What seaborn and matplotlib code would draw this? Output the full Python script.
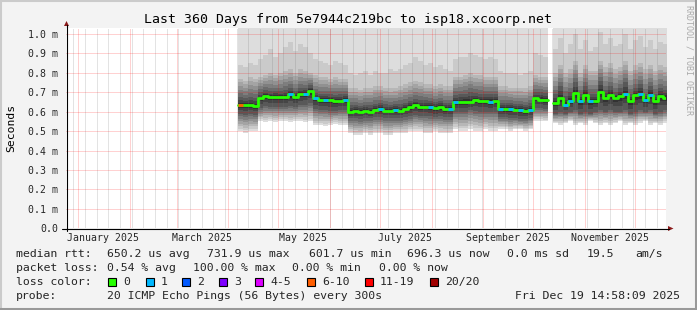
import numpy as np
import pandas as pd
import matplotlib
matplotlib.use("Agg")
import matplotlib.pyplot as plt
import matplotlib.dates as mdates
from matplotlib.patches import Polygon, Rectangle
from matplotlib.lines import Line2D
import seaborn as sns

nan = float("nan")

# ------------------------------------------------------------------ data
range_start = "2024-12-24 14:58:09"
range_end = "2025-12-19 14:58:09"
series_start = "2025-04-07"
step_days = 3

median_ms = [
    0.633, 0.632, 0.634, 0.628,
    0.668, 0.680, 0.674, 0.676, 0.674, 0.676, 0.690, 0.676, 0.690, 0.692, 0.705,
    0.668, 0.660, 0.662, 0.658, 0.655, 0.657, 0.660,
    0.600, 0.602, 0.598, 0.603, 0.600,
    0.610, 0.612, 0.605, 0.603, 0.606, 0.604, 0.614, 0.622, 0.632, 0.624, 0.625,
    0.622, 0.617, 0.622, 0.612, 0.615,
    0.648, 0.650, 0.652, 0.650, 0.662, 0.656, 0.655, 0.652, 0.655,
    0.615, 0.612, 0.615, 0.610, 0.607, 0.602, 0.610,
    0.668, 0.662, 0.660,
    nan,
    0.642, 0.670, 0.635, 0.655, 0.695, 0.655, 0.685, 0.655, 0.655, 0.700, 0.670,
    0.685, 0.670, 0.678, 0.690, 0.655, 0.685, 0.690, 0.660, 0.685, 0.655, 0.680, 0.672,
]

loss_count = [
    7, 0, 0, 0, 0, 0, 0, 0, 0, 0,
    1, 0, 0, 1, 0, 1, 0, 1, 0, 0,
    0, 1, 0, 0, 0, 0, 0, 0, 1, 0,
    0, 1, 0, 0, 0, 0, 0, 0, 1, 0,
    0, 0, 1, 1, 0, 0, 0, 0, 0, 0,
    1, 0, 1, 0, 1, 0, 1, 0, 1, 0,
    0, 0, 0, 0, 0, 1, 1, 0, 1, 0,
    1, 0, 0, 0, 0, 0, 0, 1, 0, 0,
    1, 1, 1, 0, 0, 0,
]

# smoke: lowest ping, dark core bounds, top of gradient, top of mid-grey band
ping_low = [
    0.50, 0.49, 0.50, 0.50,
    0.55, 0.545, 0.55, 0.545, 0.55, 0.55, 0.545, 0.55, 0.55, 0.545, 0.55,
    0.53, 0.53, 0.525, 0.53, 0.535, 0.53, 0.53,
    0.49, 0.48, 0.48, 0.49, 0.48, 0.49, 0.49, 0.48, 0.48, 0.49, 0.49, 0.49, 0.50,
    0.50, 0.50, 0.49, 0.49, 0.50, 0.49, 0.49, 0.49,
    0.51, 0.50, 0.50, 0.51, 0.50, 0.50, 0.51, 0.50, 0.50,
    0.51, 0.51, 0.50, 0.51, 0.51, 0.50, 0.51,
    0.55, 0.55, 0.55,
    nan,
    0.54, 0.53, 0.54, 0.55, 0.53, 0.54, 0.53, 0.55, 0.54, 0.53, 0.54, 0.53,
    0.54, 0.55, 0.53, 0.54, 0.53, 0.54, 0.55, 0.53, 0.54, 0.53, 0.54,
]
core_low = [
    0.59, 0.585, 0.59, 0.585,
    0.62, 0.63, 0.625, 0.625, 0.625, 0.625, 0.63, 0.625, 0.635, 0.635, 0.645,
    0.615, 0.61, 0.61, 0.605, 0.605, 0.61, 0.61,
    0.565, 0.565, 0.56, 0.565, 0.565, 0.57, 0.57, 0.565, 0.565, 0.565, 0.565, 0.57,
    0.575, 0.585, 0.58, 0.58, 0.575, 0.57, 0.575, 0.57, 0.57,
    0.60, 0.60, 0.60, 0.61, 0.605, 0.60, 0.60, 0.60, 0.60,
    0.57, 0.57, 0.565, 0.565, 0.56, 0.56, 0.565,
    0.62, 0.62, 0.615,
    nan,
    0.59, 0.60, 0.59, 0.60, 0.61, 0.59, 0.60, 0.59, 0.60, 0.61, 0.60, 0.61,
    0.60, 0.60, 0.61, 0.59, 0.60, 0.61, 0.60, 0.61, 0.59, 0.60, 0.61,
]
core_high = [
    0.675, 0.67, 0.675, 0.67,
    0.70, 0.71, 0.705, 0.705, 0.705, 0.71, 0.72, 0.705, 0.72, 0.72, 0.735,
    0.695, 0.69, 0.69, 0.69, 0.685, 0.69, 0.69,
    0.635, 0.635, 0.63, 0.635, 0.635, 0.64, 0.645, 0.64, 0.635, 0.64, 0.64, 0.645,
    0.655, 0.665, 0.66, 0.66, 0.655, 0.65, 0.655, 0.645, 0.645,
    0.685, 0.69, 0.69, 0.70, 0.695, 0.69, 0.69, 0.69, 0.69,
    0.645, 0.645, 0.645, 0.64, 0.64, 0.635, 0.645,
    0.70, 0.70, 0.695,
    nan,
    0.69, 0.73, 0.68, 0.70, 0.75, 0.69, 0.73, 0.69, 0.69, 0.76, 0.71, 0.73,
    0.70, 0.72, 0.75, 0.69, 0.72, 0.74, 0.69, 0.73, 0.69, 0.72, 0.71,
]
grad_high = [
    0.77, 0.76, 0.78, 0.77,
    0.78, 0.79, 0.80, 0.79, 0.80, 0.81, 0.82, 0.80, 0.82, 0.81, 0.80,
    0.79, 0.78, 0.78, 0.77, 0.78, 0.77, 0.77,
    0.72, 0.72, 0.71, 0.72, 0.72, 0.73, 0.73, 0.72, 0.72, 0.72, 0.73, 0.74,
    0.75, 0.76, 0.75, 0.74, 0.74, 0.73, 0.74, 0.73, 0.73,
    0.78, 0.78, 0.79, 0.80, 0.79, 0.79, 0.78, 0.78, 0.78,
    0.73, 0.73, 0.72, 0.72, 0.72, 0.72, 0.73,
    0.79, 0.78, 0.78,
    nan,
    0.80, 0.84, 0.80, 0.82, 0.86, 0.80, 0.84, 0.81, 0.81, 0.86, 0.83, 0.85,
    0.82, 0.83, 0.86, 0.81, 0.84, 0.85, 0.82, 0.84, 0.81, 0.84, 0.83,
]
mid_high = [
    0.84, 0.83, 0.85, 0.84,
    0.87, 0.89, 0.92, 0.88, 0.90, 0.93, 0.96, 0.91, 0.95, 0.93, 0.90,
    0.87, 0.86, 0.85, 0.84, 0.86, 0.85, 0.84,
    0.80, 0.79, 0.80, 0.81, 0.79, 0.81, 0.80, 0.80, 0.82, 0.81, 0.82, 0.84,
    0.85, 0.88, 0.86, 0.84, 0.85, 0.83, 0.84, 0.82, 0.81,
    0.87, 0.88, 0.88, 0.90, 0.89, 0.88, 0.87, 0.88, 0.87,
    0.81, 0.80, 0.80, 0.80, 0.79, 0.80, 0.81,
    0.90, 0.89, 0.88,
    nan,
    0.92, 0.98, 0.90, 0.95, 1.00, 0.92, 0.97, 0.91, 0.93, 1.01, 0.95, 0.98,
    0.94, 0.95, 1.00, 0.92, 0.97, 0.99, 0.93, 0.97, 0.92, 0.96, 0.95,
]

y_ticks = [0.0, 0.1, 0.2, 0.3, 0.4, 0.5, 0.6, 0.7, 0.8, 0.9, 1.0]
y_top = 1.03
x_label_months = ["2025-01-01", "2025-03-01", "2025-05-01", "2025-07-01",
                  "2025-09-01", "2025-11-01"]
x_label_texts = ["January 2025", "March 2025", "May 2025", "July 2025",
                 "September 2025", "November 2025"]

loss_bins = ["0", "1", "2", "3", "4-5", "6-10", "11-19", "20/20"]
loss_lo = [0, 1, 2, 3, 4, 6, 11, 20]
loss_hi = [0, 1, 2, 3, 5, 10, 19, 20]
loss_colors = ["#26ff00", "#00b8ff", "#0059ff", "#7e00ff", "#dd00ff",
               "#ff5e00", "#ff0000", "#a10000"]

title = "Last 360 Days from 5e7944c219bc to isp18.xcoorp.net"
rtt_stats = ["650.2 us avg", "731.9 us max", "601.7 us min", "696.3 us now",
             "0.0 ms sd", "19.5", "am/s"]
loss_stats = ["0.54 % avg", "100.00 % max", "0.00 % min", "0.00 % now"]
probe_text = "20 ICMP Echo Pings (56 Bytes) every 300s"
stamp_text = "Fri Dec 19 14:58:09 2025"
watermark = "RRDTOOL / TOBI OETIKER"

# ------------------------------------------------------------------ setup
sns.set_style("white")
plt.rcParams["font.family"] = ["DejaVu Sans Mono"]

W, H = 697, 310
fig = plt.figure(figsize=(W / 100, H / 100), dpi=100, facecolor="#f3f3f3")


def fx(x):
    return x / W


def fy(y):
    return 1 - y / H


X0, X1, Y0, Y1 = 66.0, 666.0, 28.0, 228.3
ax = fig.add_axes([fx(X0), fy(Y1), (X1 - X0) / W, (Y1 - Y0) / H])
ax.set_facecolor("white")
for s in ax.spines.values():
    s.set_visible(False)

dates = pd.date_range(series_start, periods=len(median_ms), freq=f"{step_days}D")
step = step_days  # date-number units (days)
df = pd.DataFrame({
    "x": mdates.date2num(dates),
    "median": median_ms,
    "loss": loss_count,
    "p_low": ping_low,
    "c_low": core_low,
    "c_high": core_high,
    "g_high": grad_high,
    "m_high": mid_high,
})
valid = df["median"].notna()
df["segment"] = (~valid).cumsum()
segs = [g for _, g in df[valid].groupby("segment")]


def band(lo_fn, hi_fn, grey):
    c = (grey / 255.0,) * 3
    for g in segs:
        xs = np.append(g["x"].values, g["x"].values[-1] + step)
        lo = np.asarray(lo_fn(g), dtype=float)
        hi = np.asarray(hi_fn(g), dtype=float)
        lo = np.append(lo, lo[-1])
        hi = np.append(hi, hi[-1])
        ax.fill_between(xs, lo, hi, step="post", color=c, lw=0, zorder=1,
                        antialiased=False)


# smoke levels (SmokePing grey ramp, outermost first)
greys = [221, 202, 183, 164, 145, 126, 107, 88, 69, 50]
band(lambda g: g["p_low"], lambda g: np.full(len(g), y_top + 0.2), greys[0])
band(lambda g: g["p_low"] + (g["c_low"] - g["p_low"]) / 7.0,
     lambda g: g["m_high"], greys[1])
for j in range(2, 7):
    band(lambda g, j=j: g["p_low"] + (g["c_low"] - g["p_low"]) * j / 7.0,
         lambda g, j=j: g["g_high"] + (g["c_high"] - g["g_high"]) * (j - 2) / 5.0,
         greys[j])
band(lambda g: g["c_low"], lambda g: g["c_high"], greys[7])
band(lambda g: g["median"] - 0.6 * (g["median"] - g["c_low"]),
     lambda g: g["median"] + 0.6 * (g["c_high"] - g["median"]), greys[8])
band(lambda g: g["median"] - 0.3 * (g["median"] - g["c_low"]),
     lambda g: g["median"] + 0.3 * (g["c_high"] - g["median"]), greys[9])

# grid (dotted, drawn over the smoke like rrdtool)
red = (1.0, 0.0, 0.0, 0.36)
gry = (0.45, 0.45, 0.45, 0.40)
dot = (0, (1, 1))
for w in pd.date_range(range_start, range_end, freq="W-SUN"):
    ax.axvline(mdates.date2num(w.normalize()), color=gry, lw=0.72, ls=dot,
               zorder=2)
for m in pd.date_range("2025-01-01", "2025-12-01", freq="MS"):
    ax.axvline(mdates.date2num(m), color=red, lw=0.72, ls=dot, zorder=2)
for v in y_ticks[1:]:
    ax.axhline(v, color=red, lw=0.72, ls=dot, zorder=2)

# median line (green = no loss), via seaborn
rows = []
for sid, g in enumerate(segs):
    for _, r in g.iterrows():
        rows.append({"x": r["x"], "median": r["median"], "segment": sid})
    rows.append({"x": g["x"].values[-1] + step, "median": g["median"].values[-1],
                 "segment": sid})
med_df = pd.DataFrame(rows)
sns.lineplot(data=med_df, x="x", y="median", units="segment", estimator=None,
             drawstyle="steps-post", color=loss_colors[0], lw=2.0, ax=ax,
             legend=False, zorder=4)

# loss-coloured overlay
for _, r in df[valid & (df["loss"] > 0)].iterrows():
    for lo, hi, col in zip(loss_lo, loss_hi, loss_colors):
        if lo <= r["loss"] <= hi:
            ax.hlines(r["median"], r["x"], r["x"] + step, colors=col, lw=2.0,
                      zorder=5)

ax.set_xlim(mdates.date2num(pd.Timestamp(range_start)),
            mdates.date2num(pd.Timestamp(range_end)))
ax.set_ylim(0, y_top)
ax.set_xlabel("")
ax.set_ylabel("")

ax.set_yticks(y_ticks)
ax.set_yticklabels(["0.0" if v == 0 else f"{v:.1f} m" for v in y_ticks])
label_pos = [mdates.date2num(pd.Timestamp(m) + pd.Timedelta(days=15))
             for m in x_label_months]
ax.set_xticks(label_pos)
ax.set_xticklabels(x_label_texts)
ax.tick_params(axis="y", length=0, pad=5.6, labelsize=7.1)
ax.tick_params(axis="x", length=0, pad=3.2, labelsize=7.1)

# axes lines + arrows
arrow_c = "#8b1a1a"
fig.add_artist(Line2D([fx(66.5), fx(66.5)], [fy(230.5), fy(25)], color="black", lw=0.8))
fig.add_artist(Line2D([fx(62), fx(668.5)], [fy(228.5), fy(228.5)], color="black", lw=0.8))
fig.add_artist(Polygon([[fx(64.0), fy(26.0)], [fx(69.0), fy(26.0)], [fx(66.5), fy(21.0)]],
                       closed=True, facecolor=arrow_c, edgecolor="none"))
fig.add_artist(Polygon([[fx(668.0), fy(226.0)], [fx(668.0), fy(231.0)], [fx(673.5), fy(228.5)]],
                       closed=True, facecolor=arrow_c, edgecolor="none"))

# frame (3D-ish border)
fig.add_artist(Line2D([0, 1], [fy(1), fy(1)], color="#cbcbcb", lw=1.5))
fig.add_artist(Line2D([fx(1), fx(1)], [0, 1], color="#cbcbcb", lw=1.5))
fig.add_artist(Line2D([0, 1], [fy(309), fy(309)], color="#999999", lw=2.2))
fig.add_artist(Line2D([fx(696), fx(696)], [0, 1], color="#999999", lw=2.2))

# texts
fig.text(fx(348), fy(19.5), title, ha="center", va="center", fontsize=9.55,
         color="black")
fig.text(fx(11), fy(128), "Seconds", ha="center", va="center", rotation=90,
         fontsize=8.2, color="black")
fig.text(fx(689), fy(60), watermark, ha="center", va="center", rotation=270,
         fontsize=6.0, color="#aaaaaa")

fs = 8.25
row1, row2, row3, row4 = 254.3, 267.7, 281.7, 296.0
fig.text(fx(16), fy(row1), "median rtt:", ha="left", va="center", fontsize=fs)
for xpos, s in zip([107, 207.3, 309, 406.7, 506.7, 586.7, 635], rtt_stats):
    fig.text(fx(xpos), fy(row1), s, ha="left", va="center", fontsize=fs)
fig.text(fx(16), fy(row2), "packet loss:", ha="left", va="center", fontsize=fs)
for xpos, s in zip([107, 193.3, 292.3, 379.3], loss_stats):
    fig.text(fx(xpos), fy(row2), s, ha="left", va="center", fontsize=fs)
fig.text(fx(16), fy(row3), "loss color:", ha="left", va="center", fontsize=fs)
box_x = [108.3, 145.7, 182.3, 219, 255, 307.3, 365, 430]
for bx, lab, col in zip(box_x, loss_bins, loss_colors):
    fig.add_artist(Rectangle((fx(bx), fy(row3 + 4)), 8 / W, 8 / H,
                             transform=fig.transFigure, facecolor=col,
                             edgecolor="black", lw=0.8))
    fig.text(fx(bx + 15), fy(row3), lab, ha="left", va="center", fontsize=fs)
fig.text(fx(16), fy(row4), "probe:", ha="left", va="center", fontsize=fs)
fig.text(fx(107), fy(row4), probe_text, ha="left", va="center", fontsize=fs)
fig.text(fx(680), fy(row4), stamp_text, ha="right", va="center", fontsize=fs)

fig.savefig("out.png", dpi=100, facecolor=fig.get_facecolor())
